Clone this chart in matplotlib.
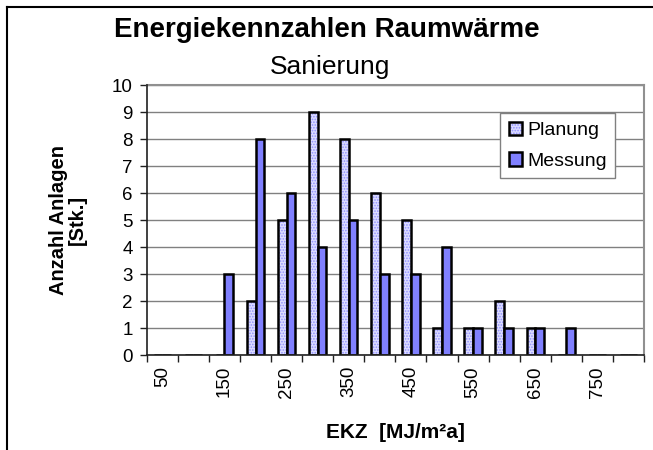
import numpy as np
import matplotlib
matplotlib.use("Agg")
import matplotlib.pyplot as plt
from matplotlib.lines import Line2D
from matplotlib.legend_handler import HandlerTuple

plt.rcParams['font.family'] = ['Liberation Sans', 'DejaVu Sans']
plt.rcParams['hatch.linewidth'] = 0.8

# EKZ classes [MJ/m2a]
categories = [50, 100, 150, 200, 250, 300, 350, 400, 450, 500, 550, 600, 650, 700, 750, 800]
planung = [0, 0, 0, 2, 5, 9, 8, 6, 5, 1, 1, 2, 1, 0, 0, 0]
messung = [0, 0, 3, 8, 6, 4, 5, 3, 3, 4, 1, 1, 1, 1, 0, 0]

fig = plt.figure(figsize=(6.53, 4.5), dpi=100)
ax = fig.add_axes([0.2247, 0.2111, 0.9862 - 0.2247, 0.8111 - 0.2111])

x = np.arange(len(categories))
w = 0.28

# Planung: light dotted fill (hatch drawn in light blue), black outline on top
p_fill = ax.bar(x - w / 2, planung, w, color='#dcdcff', hatch='......',
                edgecolor='#9090ff', linewidth=0, zorder=3)
p_edge = ax.bar(x - w / 2, planung, w, fill=False, edgecolor='black',
                linewidth=1.8, zorder=4)
m_bar = ax.bar(x + w / 2, messung, w, color='#8080ff', edgecolor='black',
               linewidth=1.8, zorder=4)

ax.set_xlim(-0.5, len(categories) - 0.5)
ax.set_ylim(0, 10)

# grid + frame like Excel
ax.set_yticks(range(0, 11))
ax.yaxis.grid(True, color='#808080', linewidth=1.0)
ax.set_axisbelow(True)
for s in ['top', 'right']:
    ax.spines[s].set_color('#909090')
    ax.spines[s].set_linewidth(1.5)
for s in ['left', 'bottom']:
    ax.spines[s].set_color('#202020')
    ax.spines[s].set_linewidth(1.2)
    ax.spines[s].set_zorder(5)

# x ticks on class borders, labels every second class
ax.set_xticks(np.arange(len(categories) + 1) - 0.5)
ax.set_xticklabels([])
ax.set_xticks(x[::2], minor=True)
ax.set_xticklabels([str(c) for c in categories[::2]], minor=True, rotation=90)
ax.tick_params(axis='x', which='major', length=5, width=1, direction='out', color='#202020')
ax.tick_params(axis='x', which='minor', length=0, pad=8, labelsize=13.5)
ax.tick_params(axis='y', length=5, width=1, direction='out', labelsize=13.5, pad=5, color='#202020')

leg = ax.legend([(p_fill, p_edge), m_bar], ['Planung', 'Messung'],
                handler_map={tuple: HandlerTuple(ndivide=1, pad=0)},
                loc='upper left', bbox_to_anchor=(0.71, 0.896),
                fontsize=14, frameon=True, fancybox=False, framealpha=1,
                edgecolor='#808080', handlelength=0.7, handleheight=0.7,
                handletextpad=0.25, borderpad=0.45, labelspacing=0.65,
                borderaxespad=0)
leg.get_frame().set_linewidth(1.0)

fig.text(0.5, 1 - 30 / 450, 'Energiekennzahlen Raumwärme', ha='center', va='center',
         fontsize=20, fontweight='bold')
fig.text(0.505, 1 - 67 / 450, 'Sanierung', ha='center', va='center', fontsize=19)
fig.text(68 / 653, 1 - 220 / 450, 'Anzahl Anlagen\n[Stk.]', ha='center', va='center',
         rotation=90, fontsize=14.5, fontweight='bold', multialignment='center',
         linespacing=1.05)
fig.text(395 / 653, 1 - 432 / 450, 'EKZ  [MJ/m²a]', ha='center', va='center',
         fontsize=15, fontweight='bold')

# outer chart frame (only top and left visible)
fig.add_artist(Line2D([7 / 653, 1], [1 - 7 / 450, 1 - 7 / 450], color='black', linewidth=1.5,
                      transform=fig.transFigure))
fig.add_artist(Line2D([7 / 653, 7 / 653], [0, 1 - 7 / 450], color='black', linewidth=1.5,
                      transform=fig.transFigure))

fig.savefig('out.png', dpi=100)
